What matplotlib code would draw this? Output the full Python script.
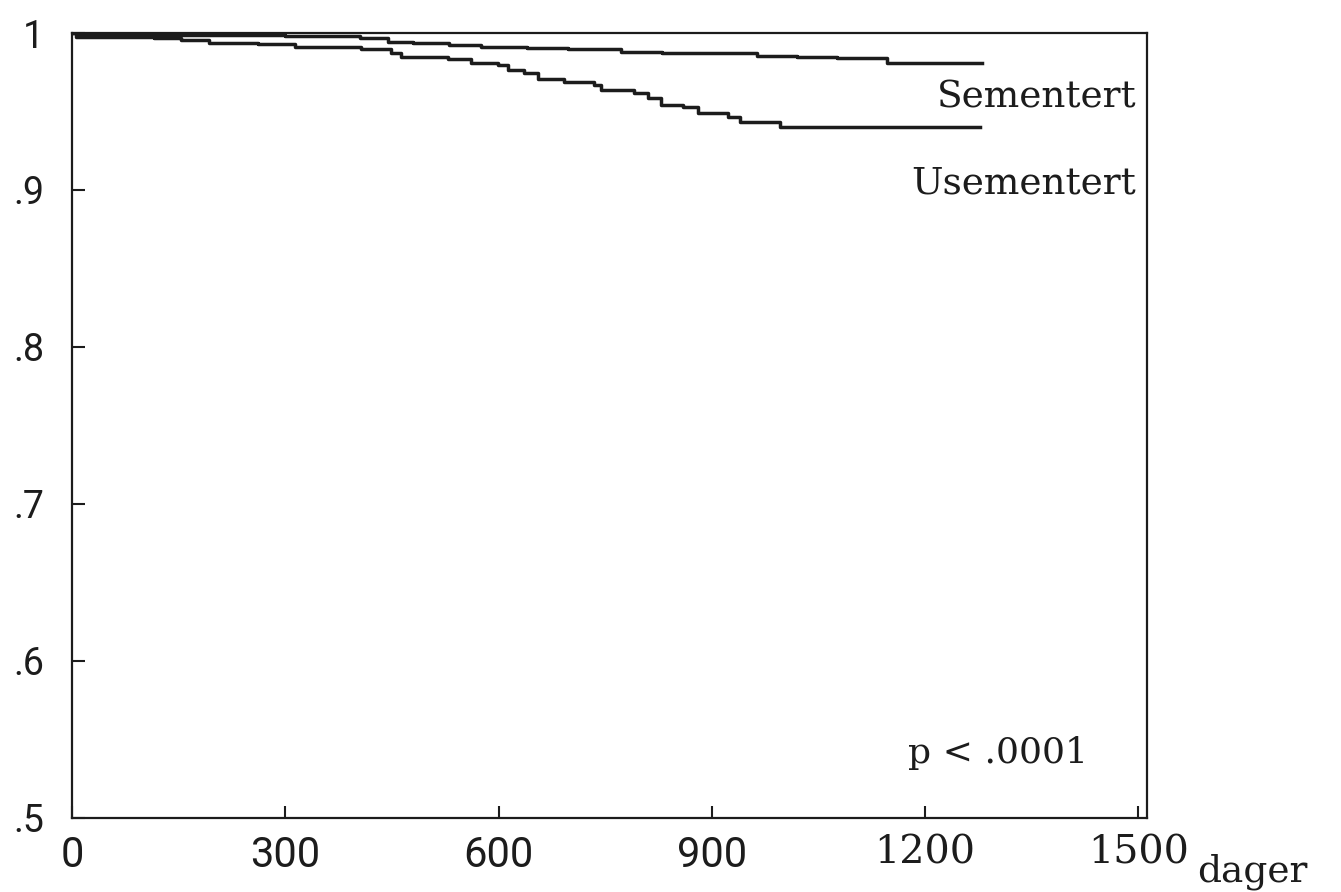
import matplotlib
matplotlib.use('Agg')
import matplotlib.pyplot as plt

# Kaplan-Meier style survival curves
sem_days = [0, 10, 300, 405, 445, 480, 530, 575, 640, 697, 772, 830, 964, 1020, 1076, 1146]
sem_surv = [1.0, 0.9990, 0.9981, 0.9966, 0.9945, 0.9934, 0.9924, 0.9913, 0.9905, 0.9896,
            0.9881, 0.9875, 0.9854, 0.9847, 0.9839, 0.9811]
sem_end = 1280

usem_days = [0, 5, 116, 154, 192, 262, 313, 407, 449, 463, 529, 561, 599, 613, 636, 655,
             692, 734, 744, 790, 810, 828, 860, 880, 922, 940, 996]
usem_surv = [1.0, 0.9973, 0.9966, 0.9955, 0.9938, 0.9930, 0.9913, 0.9896, 0.9871, 0.9849,
             0.9832, 0.9811, 0.9796, 0.9764, 0.9743, 0.9705, 0.9690, 0.9669, 0.9637, 0.9616,
             0.9584, 0.9541, 0.9529, 0.9490, 0.9463, 0.9435, 0.9403]
usem_end = 1277

x_ticks = [0, 300, 600, 900, 1200, 1500]
x_labels = ['0', '300', '600', '900', '1200', '1500']
y_ticks = [0.5, 0.6, 0.7, 0.8, 0.9, 1.0]
y_labels = ['.5', '.6', '.7', '.8', '.9', '1']

ink = '#1c1c1c'

fig = plt.figure(figsize=(13.41, 8.92), dpi=100)
ax = fig.add_axes([0.0537, 0.083, 0.8016, 0.880])

ax.step(sem_days + [sem_end], sem_surv + [sem_surv[-1]], where='post', color=ink, lw=2.5)
ax.step(usem_days + [usem_end], usem_surv + [usem_surv[-1]], where='post', color=ink, lw=2.5)

ax.set_xlim(0, 1512)
ax.set_ylim(0.5, 1.0)
ax.set_xticks(x_ticks)
ax.set_xticklabels(x_labels)
ax.set_yticks(y_ticks)
ax.set_yticklabels(y_labels)
ax.tick_params(axis='both', direction='in', length=9, width=1.5, colors=ink)
ax.tick_params(axis='x', pad=12)
ax.tick_params(axis='y', pad=20)

for lab in ax.get_xticklabels():
    if lab.get_text() in ('1200', '1500'):
        lab.set_fontfamily('DejaVu Serif')
        lab.set_fontsize(28.5)
    else:
        lab.set_fontfamily('Roboto')
        lab.set_fontsize(30)
for lab in ax.get_yticklabels():
    lab.set_fontfamily('Roboto')
    lab.set_fontsize(27)

for sp in ax.spines.values():
    sp.set_color(ink)
    sp.set_linewidth(1.6)

txt = dict(family='DejaVu Serif', color=ink)
ax.text(0.99, 0.918, 'Sementert', transform=ax.transAxes, ha='right', va='center', fontsize=27, **txt)
ax.text(0.99, 0.808, 'Usementert', transform=ax.transAxes, ha='right', va='center', fontsize=27, **txt)
ax.text(0.945, 0.083, 'p < .0001', transform=ax.transAxes, ha='right', va='center', fontsize=26, **txt)
fig.text(1197 / 1341, 1 - 872 / 892, 'dager', ha='left', va='center', fontsize=27, **txt)

fig.savefig('out.png', dpi=100, facecolor='white')
